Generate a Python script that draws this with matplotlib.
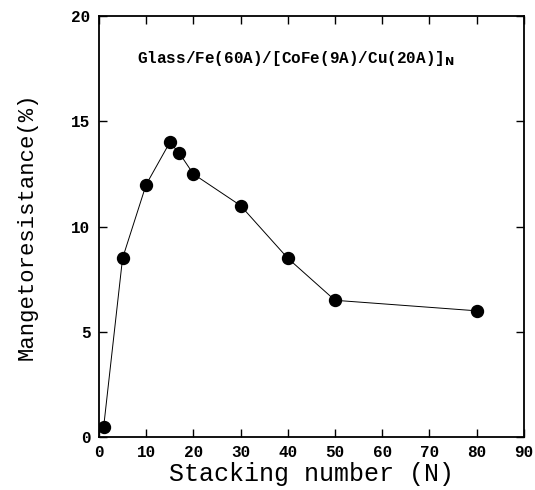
import numpy as np
import matplotlib.pyplot as plt

# stacking number N vs magnetoresistance (%)
stack_n = [1, 5, 10, 15, 17, 20, 30, 40, 50, 80]
mr_pct = [0.5, 8.5, 12.0, 14.0, 13.5, 12.5, 11.0, 8.5, 6.5, 6.0]

x_ticks = list(range(0, 91, 10))
y_ticks = [0, 5, 10, 15, 20]

plt.rcParams['font.family'] = ['Liberation Mono', 'DejaVu Sans Mono']

fig = plt.figure(figsize=(5.35, 4.9), dpi=100)
ax = fig.add_axes([0.185, 0.108, 0.794, 0.859])

ax.plot(stack_n, mr_pct, color='black', linewidth=0.7)
ax.plot(stack_n, mr_pct, 'o', color='black', markersize=8.6)

ax.set_xlim(0, 90)
ax.set_ylim(0, 20)
ax.set_xticks(x_ticks)
ax.set_yticks(y_ticks)
ax.tick_params(direction='in', top=True, right=True, length=6, width=1,
               labelsize=11.5, pad=6)
for lab in ax.get_xticklabels() + ax.get_yticklabels():
    lab.set_fontweight('bold')
for sp in ax.spines.values():
    sp.set_linewidth(1.3)

ax.set_xlabel("Stacking number (N)", fontsize=18, labelpad=1)
ax.set_ylabel("Mangetoresistance(%)", fontsize=16, labelpad=24)

ax.text(8, 18, r"Glass/Fe(60A)/[CoFe(9A)/Cu(20A)]$_{\mathbf{N}}$",
        fontsize=11.5, fontweight='bold', va='center', ha='left')

fig.savefig("out.png", dpi=100)
